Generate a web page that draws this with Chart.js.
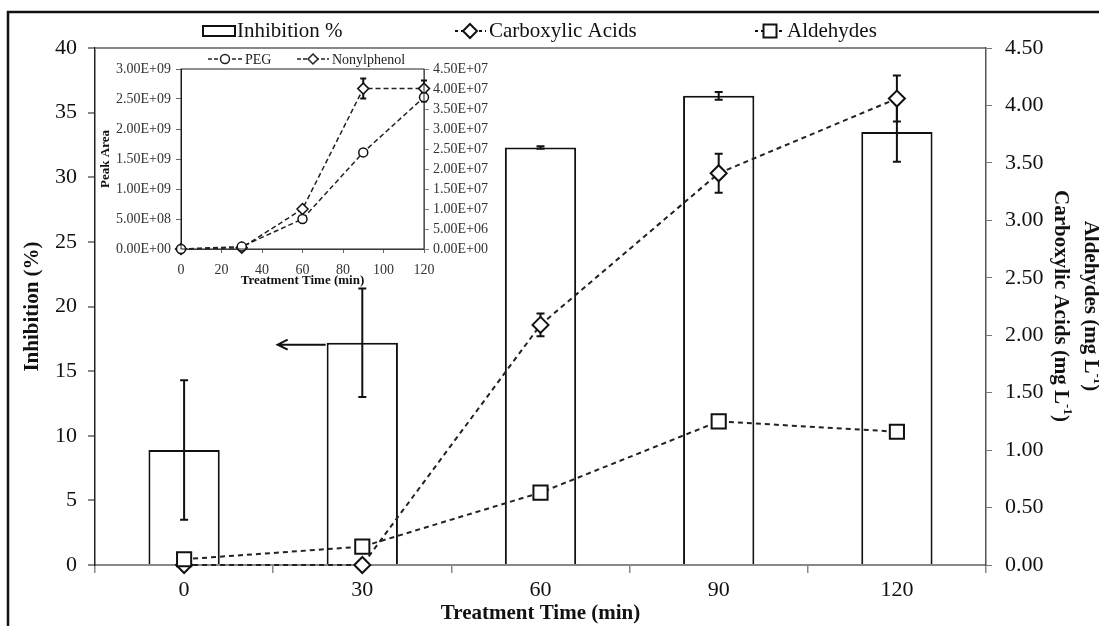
<!DOCTYPE html>
<html>
<head>
<meta charset="utf-8">
<script src="https://cdn.jsdelivr.net/npm/chart.js@4"></script>
<style>
  body { margin: 0; background: #fff; }
  #wrap { position: relative; width: 1099px; height: 626px; }
  #main { position: absolute; left: 0; top: 0; }
  #inset { position: absolute; left: 95px; top: 40px; }
</style>
</head>
<body>
<div id="wrap">
  <canvas id="main" width="1099" height="626"></canvas>
  <canvas id="inset" width="400" height="250"></canvas>
</div>
<script>
// main chart data
const times = ['0', '30', '60', '90', '120'];
const inhibition = [8.9, 17.2, 32.3, 36.3, 33.5];
const inhibitionErr = [5.4, 4.2, 0.1, 0.3, 2.3];
const carboxylic = [0, 0, 2.09, 3.41, 4.06];
const carboxylicErr = [0, 0, 0.1, 0.17, 0.2];
const aldehydes = [0.05, 0.16, 0.63, 1.25, 1.16];

// inset data
const insetTimes = [0, 30, 60, 90, 120];
const peg = [0, 4.0e7, 5.0e8, 1.61e9, 2.53e9];
const pegErr = [0, 0, 0, 3e7, 7e7];
const nonylphenol = [0, 3e5, 1.0e7, 4.01e7, 4.01e7];
const nonylErr = [0, 0, 0, 2.5e6, 2.0e6];

Chart.defaults.font.family = '"Liberation Serif", "Times New Roman", serif';
Chart.defaults.color = '#111';

// error bars: under line markers, over bars
function drawErrors(chart, meta, cap) {
  const ds = chart.data.datasets[meta.index];
  if (!ds.errors) return;
  const scale = chart.scales[meta.yAxisID];
  const ctx = chart.ctx;
  ctx.save();
  ctx.strokeStyle = '#111';
  ctx.lineWidth = 2;
  ctx.setLineDash([]);
  meta.data.forEach((el, i) => {
    const e = ds.errors[i];
    if (!e) return;
    const v = ds.data[i].y !== undefined ? ds.data[i].y : ds.data[i];
    const y0 = scale.getPixelForValue(v + e);
    const y1 = scale.getPixelForValue(v - e);
    ctx.beginPath();
    ctx.moveTo(el.x, y0); ctx.lineTo(el.x, y1);
    ctx.moveTo(el.x - cap, y0); ctx.lineTo(el.x + cap, y0);
    ctx.moveTo(el.x - cap, y1); ctx.lineTo(el.x + cap, y1);
    ctx.stroke();
  });
  ctx.restore();
}
const errorBars = {
  id: 'errorBars',
  beforeDatasetDraw(chart, args, opts) {
    if (args.meta.type === 'line') drawErrors(chart, args.meta, opts.cap || 4);
  },
  afterDatasetDraw(chart, args, opts) {
    if (args.meta.type === 'bar') drawErrors(chart, args.meta, opts.cap || 4);
  }
};

function marker(ctx, kind, x, y, r) {
  ctx.save();
  ctx.setLineDash([]);
  ctx.fillStyle = '#fff';
  ctx.beginPath();
  if (kind === 'diamond') {
    ctx.moveTo(x, y - r); ctx.lineTo(x + r, y); ctx.lineTo(x, y + r); ctx.lineTo(x - r, y); ctx.closePath();
  } else if (kind === 'square') {
    ctx.rect(x - r, y - r, 2 * r, 2 * r);
  } else {
    ctx.arc(x, y, r, 0, Math.PI * 2);
  }
  ctx.fill();
  ctx.stroke();
  ctx.restore();
}

function supText(ctx, parts, cx, cy, size) {
  let w = 0;
  parts.forEach(p => {
    ctx.font = 'bold ' + (p.sup ? Math.round(size * 0.62) : size) + 'px "Liberation Serif"';
    p.w = ctx.measureText(p.t).width;
    w += p.w;
  });
  let x = cx - w / 2;
  parts.forEach(p => {
    ctx.font = 'bold ' + (p.sup ? Math.round(size * 0.62) : size) + 'px "Liberation Serif"';
    ctx.fillText(p.t, x, cy - (p.sup ? size * 0.35 : 0));
    x += p.w;
  });
}

const decor = {
  id: 'decor',
  afterDraw(chart) {
    const ctx = chart.ctx;
    ctx.save();
    // outer frame
    ctx.strokeStyle = '#111';
    ctx.lineWidth = 2.5;
    ctx.beginPath();
    ctx.moveTo(8, 626); ctx.lineTo(8, 12); ctx.lineTo(1099, 12);
    ctx.stroke();

    // legend
    ctx.font = '21px "Liberation Serif"';
    ctx.fillStyle = '#111';
    ctx.textBaseline = 'middle';
    ctx.lineWidth = 2;
    ctx.strokeRect(203, 26, 32, 10);
    ctx.fillText('Inhibition %', 237, 31);
    ctx.setLineDash([3, 3]);
    ctx.beginPath(); ctx.moveTo(455, 31); ctx.lineTo(486, 31); ctx.stroke();
    marker(ctx, 'diamond', 470, 31, 7);
    ctx.fillText('Carboxylic Acids', 489, 31);
    ctx.setLineDash([3, 3]);
    ctx.beginPath(); ctx.moveTo(755, 31); ctx.lineTo(785, 31); ctx.stroke();
    marker(ctx, 'square', 770, 31, 6.5);
    ctx.fillText('Aldehydes', 787, 31);
    ctx.setLineDash([]);

    // arrow pointing to the left axis
    const bars = chart.getDatasetMeta(0).data;
    const b = bars[1];
    const ya = chart.scales.y.getPixelForValue(inhibition[1]) + 2;
    const xa = b.x - b.width / 2 - 1;
    const xb = xa - 48;
    ctx.beginPath();
    ctx.moveTo(xa, ya); ctx.lineTo(xb, ya);
    ctx.moveTo(xb + 10, ya - 5); ctx.lineTo(xb, ya); ctx.lineTo(xb + 10, ya + 5);
    ctx.stroke();

    // right axis title, two lines, rotated
    ctx.translate(1075, 306);
    ctx.rotate(Math.PI / 2);
    ctx.textBaseline = 'middle';
    supText(ctx, [{t: 'Aldehydes (mg L'}, {t: '-1', sup: true}, {t: ')'}], 0, -15, 21);
    supText(ctx, [{t: 'Carboxylic Acids (mg L'}, {t: '-1', sup: true}, {t: ')'}], 0, 15, 21);
    ctx.restore();
  }
};

new Chart(document.getElementById('main'), {
  type: 'bar',
  data: {
    labels: times,
    datasets: [
      {
        type: 'bar',
        label: 'Inhibition %',
        data: inhibition,
        errors: inhibitionErr,
        yAxisID: 'y',
        backgroundColor: '#fff',
        borderColor: '#111',
        borderWidth: 2,
        barPercentage: 0.4,
        categoryPercentage: 1,
        order: 3
      },
      {
        type: 'line',
        label: 'Carboxylic Acids',
        data: carboxylic,
        errors: carboxylicErr,
        yAxisID: 'y1',
        borderColor: '#222',
        borderWidth: 2,
        borderDash: [5, 4],
        pointStyle: 'rectRot',
        pointRadius: 8,
        pointBackgroundColor: '#fff',
        pointBorderColor: '#111',
        pointBorderWidth: 2,
        clip: false,
        order: 2
      },
      {
        type: 'line',
        label: 'Aldehydes',
        data: aldehydes,
        yAxisID: 'y1',
        borderColor: '#222',
        borderWidth: 2,
        borderDash: [5, 4],
        pointStyle: 'rect',
        pointRadius: 10,
        pointBackgroundColor: '#fff',
        pointBorderColor: '#111',
        pointBorderWidth: 2,
        clip: false,
        order: 1
      }
    ]
  },
  options: {
    responsive: false,
    animation: false,
    devicePixelRatio: 1,
    layout: { padding: { top: 48, left: 0, right: 0, bottom: 0 } },
    plugins: {
      legend: { display: false },
      tooltip: { enabled: false },
      errorBars: { cap: 4 }
    },
    scales: {
      x: {
        offset: true,
        grid: { offset: true, drawOnChartArea: false, tickLength: 8, color: '#888', lineWidth: 1.5 },
        border: { color: '#888', width: 2 },
        ticks: { font: { size: 22 }, color: '#111', padding: 4 },
        title: { display: true, text: 'Treatment Time (min)', font: { size: 21, weight: 'bold' }, color: '#111', padding: 0 },
        afterFit(s) { s.height = 61; }
      },
      y: {
        position: 'left',
        min: 0, max: 40,
        ticks: { stepSize: 5, font: { size: 22 }, color: '#111', padding: 11 },
        grid: {
          tickLength: 7,
          tickColor: '#888',
          lineWidth: 2,
          color: c => (c.tick && c.tick.value === 40) ? '#888' : 'rgba(0,0,0,0)'
        },
        border: { color: '#222', width: 1.5 },
        title: { display: true, text: 'Inhibition (%)', font: { size: 21, weight: 'bold' }, color: '#111', padding: { top: 20, bottom: 0 } },
        afterFit(s) { s.width = 95; }
      },
      y1: {
        position: 'right',
        min: 0, max: 4.5,
        ticks: { stepSize: 0.5, font: { size: 22 }, color: '#111', padding: 13, callback: v => v.toFixed(2) },
        grid: { drawOnChartArea: false, tickLength: 6, color: '#777' },
        border: { color: '#555', width: 1.5 },
        afterFit(s) { s.width = 113; }
      }
    }
  },
  plugins: [errorBars, decor]
});

// inset chart
function sci(v) {
  const parts = Number(v).toExponential(2).split('e');
  const n = parseInt(parts[1], 10);
  return parts[0] + 'E' + (n < 0 ? '-' : '+') + String(Math.abs(n)).padStart(2, '0');
}

const insetDecor = {
  id: 'insetDecor',
  afterDraw(chart) {
    const ctx = chart.ctx;
    const a = chart.chartArea;
    ctx.save();
    ctx.strokeStyle = '#222';
    ctx.lineWidth = 1;
    ctx.strokeRect(a.left, a.top, a.right - a.left, a.bottom - a.top);
    ctx.font = '14px "Liberation Serif"';
    ctx.fillStyle = '#222';
    ctx.textBaseline = 'middle';
    ctx.lineWidth = 1.5;
    ctx.setLineDash([4, 2]);
    ctx.beginPath(); ctx.moveTo(113, 19); ctx.lineTo(147, 19); ctx.stroke();
    marker(ctx, 'circle', 130, 19, 4.5);
    ctx.fillText('PEG', 150, 20);
    ctx.setLineDash([4, 2]);
    ctx.beginPath(); ctx.moveTo(202, 19); ctx.lineTo(234, 19); ctx.stroke();
    marker(ctx, 'diamond', 218, 19, 5);
    ctx.fillText('Nonylphenol', 237, 20);
    ctx.restore();
  }
};

new Chart(document.getElementById('inset'), {
  type: 'line',
  data: {
    datasets: [
      {
        label: 'PEG',
        data: insetTimes.map((t, i) => ({ x: t, y: peg[i] })),
        errors: pegErr,
        yAxisID: 'y',
        borderColor: '#222',
        borderWidth: 1.5,
        borderDash: [5, 3],
        pointStyle: 'circle',
        pointRadius: 4.5,
        pointBackgroundColor: '#fff',
        pointBorderColor: '#111',
        pointBorderWidth: 1.5,
        clip: false
      },
      {
        label: 'Nonylphenol',
        data: insetTimes.map((t, i) => ({ x: t, y: nonylphenol[i] })),
        errors: nonylErr,
        yAxisID: 'y1',
        borderColor: '#222',
        borderWidth: 1.5,
        borderDash: [5, 3],
        pointStyle: 'rectRot',
        pointRadius: 5.5,
        pointBackgroundColor: '#fff',
        pointBorderColor: '#111',
        pointBorderWidth: 1.5,
        clip: false
      }
    ]
  },
  options: {
    responsive: false,
    animation: false,
    devicePixelRatio: 1,
    layout: { padding: { top: 29, left: 0, right: 0, bottom: 0 } },
    plugins: {
      legend: { display: false },
      tooltip: { enabled: false },
      errorBars: { cap: 3 }
    },
    scales: {
      x: {
        type: 'linear',
        min: 0, max: 120,
        ticks: { stepSize: 20, font: { size: 14 }, color: '#333', padding: 9 },
        grid: { drawOnChartArea: false, tickLength: 4, color: '#666' },
        border: { color: '#555' },
        title: { display: true, text: 'Treatment Time (min)', font: { size: 13, weight: 'bold' }, color: '#111', padding: { top: 0, bottom: 2 } },
        afterFit(s) { s.height = 41; }
      },
      y: {
        position: 'left',
        min: 0, max: 3e9,
        ticks: { stepSize: 5e8, font: { size: 14 }, color: '#333', padding: 5, callback: v => sci(v) },
        grid: { drawOnChartArea: false, tickLength: 5, color: '#666' },
        border: { color: '#111' },
        title: { display: true, text: 'Peak Area', font: { size: 13, weight: 'bold' }, color: '#111', padding: { top: 3, bottom: 0 } },
        afterFit(s) { s.width = 86; }
      },
      y1: {
        position: 'right',
        min: 0, max: 4.5e7,
        ticks: { stepSize: 5e6, font: { size: 14 }, color: '#333', padding: 4, callback: v => sci(v) },
        grid: { drawOnChartArea: false, tickLength: 5, color: '#888' },
        border: { color: '#888' },
        afterFit(s) { s.width = 71; }
      }
    }
  },
  plugins: [errorBars, insetDecor]
});
</script>
</body>
</html>
